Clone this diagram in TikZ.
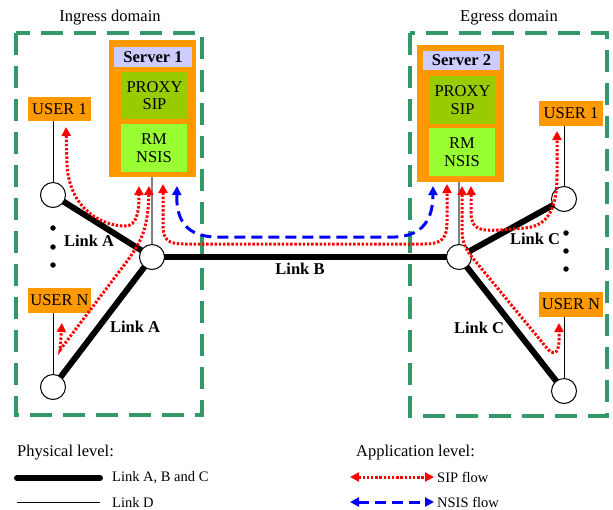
\documentclass[tikz,border=0pt]{standalone}
\usepackage{fontspec}
\setmainfont{Liberation Serif}
\usetikzlibrary{arrows.meta}
\definecolor{dgreen}{RGB}{51,153,102}
\definecolor{orng}{RGB}{255,153,0}
\definecolor{lav}{RGB}{204,204,255}
\definecolor{olivegr}{RGB}{153,204,0}
\definecolor{lgreen}{RGB}{153,255,51}
\begin{document}
\begin{tikzpicture}[x=1pt,y=-1pt,
  domainbox/.style={draw=dgreen, line width=3.8pt, dash pattern=on 22pt off 11pt},
  txt/.style={inner sep=0pt, align=center, font=\fontsize{16.5}{17.5}\selectfont},
  lgtxt/.style={inner sep=0pt, anchor=west, font=\fontsize{14.5}{15}\selectfont},
  srv/.style={fill=orng, inner sep=0pt, minimum width=87pt, minimum height=137pt},
  srvlabel/.style={txt, fill=lav, font=\fontsize{16.5}{17.5}\selectfont\bfseries, minimum width=78pt, minimum height=20pt},
  proxy/.style={txt, fill=olivegr, minimum width=65pt, minimum height=47pt},
  rmbox/.style={txt, fill=lgreen, minimum width=66pt, minimum height=48pt},
  user/.style={txt, fill=orng, minimum width=63pt, minimum height=24pt},
  router/.style={circle, draw=black, line width=1pt, fill=white, minimum size=25pt, inner sep=0pt},
  thick link/.style={line width=6pt},
  thin link/.style={line width=1pt},
  srvlink/.style={line width=1.1pt, draw=gray},
  linklabel/.style={txt, font=\fontsize{16.5}{17.5}\selectfont\bfseries},
  sip/.style={draw=red, line width=3pt, dash pattern=on 2.4pt off 1.8pt, {Triangle[length=9pt,width=9pt]}-{Triangle[length=9pt,width=9pt]}},
  nsis/.style={draw=blue, line width=3pt, dash pattern=on 11pt off 6pt, {Triangle[length=9pt,width=9pt]}-{Triangle[length=9pt,width=9pt]}},
  dotmark/.style={circle, fill=black, inner sep=0pt, minimum size=5.5pt}
]
\useasboundingbox (0,0) rectangle (613,509);

% domains
\draw[domainbox] (16,33) rectangle (202,415);
\draw[domainbox] (410,33) rectangle (607,416);
\node[txt] (ingt) at (110,18) {Ingress domain};
\node[txt] (egrt) at (509,18) {Egress domain};

% servers
\node[srv] (s1) at (152.5,108.5) {};
\node[srvlabel] (s1l) at (153,57) {Server 1};
\node[proxy] (s1p) at (154.5,95.5) {PROXY\\SIP};
\node[rmbox] (s1r) at (154,148) {RM\\NSIS};

\node[srv] (s2) at (460.5,113.5) {};
\node[srvlabel, minimum width=77pt, minimum height=19pt] (s2l) at (461.5,60.5) {Server 2};
\node[proxy, minimum height=48pt] (s2p) at (462.5,100) {PROXY\\SIP};
\node[rmbox] (s2r) at (462,152) {RM\\NSIS};

% users
\node[user] (u1l) at (59.5,109) {USER 1};
\node[user, minimum height=25pt] (unl) at (59.5,300.5) {USER N};
\node[user, minimum width=64pt, minimum height=25pt] (u1r) at (571,113.5) {USER 1};
\node[user, minimum width=64pt, minimum height=25pt] (unr) at (571,304.5) {USER N};

% routers
\coordinate (c1p) at (53,195);
\coordinate (cnp) at (53,387);
\coordinate (hlp) at (152,257);
\coordinate (hrp) at (459,257);
\coordinate (r1p) at (564,199);
\coordinate (rnp) at (564,391);

% thin links
\draw[thin link] (u1l.south -| c1p) -- (c1p);
\draw[thin link] (unl.south -| cnp) -- (cnp);
\draw[thin link] (u1r.south -| r1p) -- (r1p);
\draw[thin link] (unr.south -| rnp) -- (rnp);
\draw[srvlink] (s1.south -| hlp) -- (hlp);
\draw[srvlink] (s2.south -| hrp) -- (hrp);

% thick links
\draw[thick link] (c1p) -- (hlp);
\draw[thick link] (cnp) -- (hlp);
\draw[thick link] (hlp) -- (hrp);
\draw[thick link] (hrp) -- (r1p);
\draw[thick link] (hrp) -- (rnp);

\node[router] (c1) at (c1p) {};
\node[router] (cn) at (cnp) {};
\node[router] (hl) at (hlp) {};
\node[router] (hr) at (hrp) {};
\node[router] (r1) at (r1p) {};
\node[router] (rn) at (rnp) {};

% dots
\node[dotmark] (dl1) at (53,228) {};
\node[dotmark] (dl2) at (53,247) {};
\node[dotmark] (dl3) at (53,265) {};
\node[dotmark] (dr1) at (566,233) {};
\node[dotmark] (dr2) at (566,251) {};
\node[dotmark] (dr3) at (566,269) {};

% link labels
\node[linklabel] (la1) at (89,241) {Link A};
\node[linklabel] (la2) at (135,327) {Link A};
\node[linklabel] (lb) at (300,269) {Link B};
\node[linklabel] (lc1) at (535,239) {Link C};
\node[linklabel] (lc2) at (479,328) {Link C};

% flow end points
\coordinate (f1a) at (66,127);
\coordinate (f1b) at (139,186);
\coordinate (f2a) at (149,186);
\coordinate (f2b) at (62,323);
\coordinate (f3a) at (163,184);
\coordinate (f3b) at (447,184);
\coordinate (n1a) at (177,186);
\coordinate (n1b) at (433,186);
\coordinate (f5a) at (462,186);
\coordinate (f5b) at (559,323);
\coordinate (f6a) at (471,186);
\coordinate (f6b) at (557,131);

% SIP flows
\draw[sip] (f1a) -- (67,165) .. controls (70,212) and (105,226) .. (125,226)
   .. controls (137,226) and (139,212) .. (f1b);
\draw[sip] (f2a) .. controls (148,228) and (142,240) .. (128,260)
   -- (60,350) -- (f2b);
\draw[sip] (f3a) -- (163,225) .. controls (163,240) and (168,244) .. (185,244)
   -- (425,244) .. controls (442,244) and (447,238) .. (447,222) -- (f3b);
\draw[nsis] (n1a) .. controls (176,222) and (188,236) .. (215,237)
   -- (395,237) .. controls (422,236) and (433,220) .. (n1b);
\draw[sip] (f5a) -- (462,232) .. controls (463,245) and (466,250) .. (476,262)
   -- (546,347) .. controls (552,355) and (559,356) .. (559,340) -- (f5b);
\draw[sip] (f6a) -- (471,212) .. controls (471,230) and (480,231) .. (500,230)
   -- (525,228) .. controls (550,226) and (557,205) .. (557,175) -- (f6b);

% legend
\node[txt, anchor=west] (phys) at (17,453) {Physical level:};
\node[txt, anchor=west] (appl) at (356,453) {Application level:};
\coordinate (lg1a) at (17,478);
\coordinate (lg1b) at (100,478);
\coordinate (lg2a) at (17,502);
\coordinate (lg2b) at (100,502);
\draw[thick link, line width=6pt, line cap=round] (lg1a) -- (lg1b);
\draw[thin link] (lg2a) -- (lg2b);
\node[lgtxt] (lgt1) at (112,478) {Link A, B and C};
\node[lgtxt] (lgt2) at (112,502) {Link D};
\coordinate (lg3a) at (350,477);
\coordinate (lg3b) at (434,477);
\coordinate (lg4a) at (350,502);
\coordinate (lg4b) at (434,502);
\draw[sip] (lg3a) -- (lg3b);
\draw[nsis] (lg4a) -- (lg4b);
\node[lgtxt] (lgt3) at (437,477) {SIP flow};
\node[lgtxt] (lgt4) at (437,502) {NSIS flow};
\end{tikzpicture}
\end{document}
